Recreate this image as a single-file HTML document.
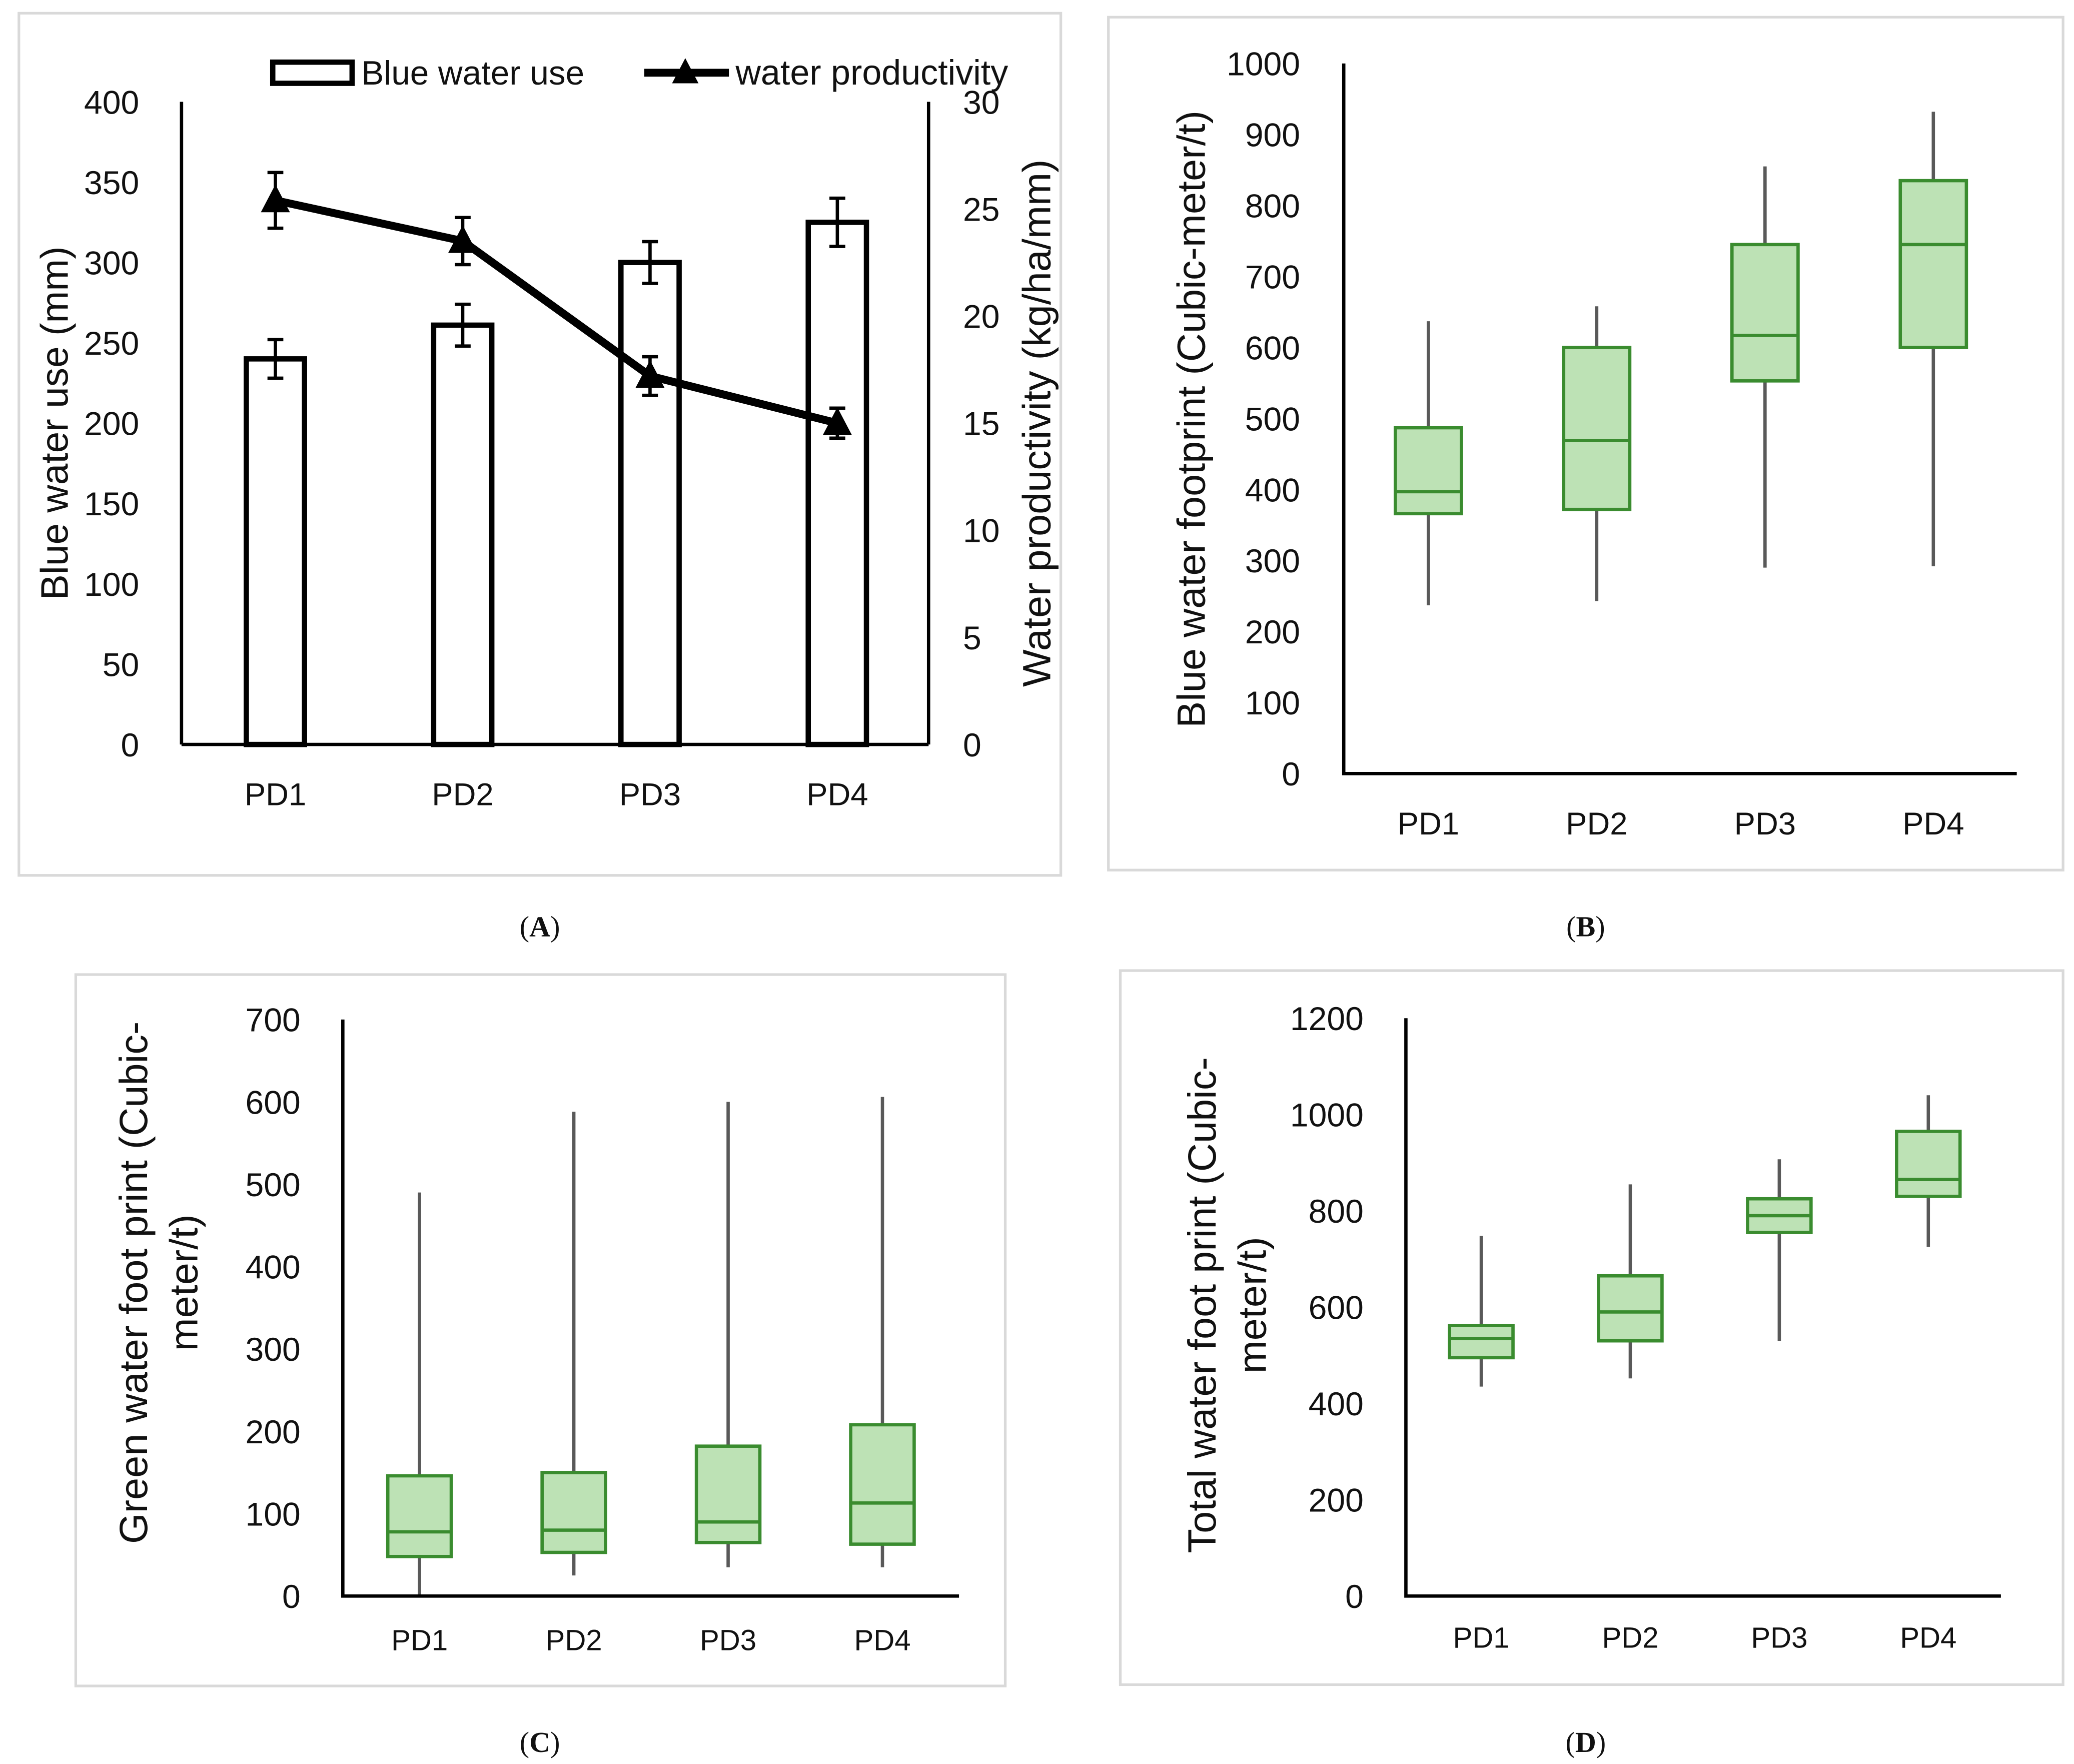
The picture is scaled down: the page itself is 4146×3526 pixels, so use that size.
<!DOCTYPE html>
<html><head><meta charset="utf-8">
<style>
html,body{margin:0;padding:0;background:#fff;}
svg{display:block;}
text{font-family:"Liberation Sans",sans-serif;fill:#111;}
.cap{font-family:"Liberation Serif",serif;font-size:22px;}
</style></head>
<body>
<svg id="fig" width="4146" height="3526" viewBox="0 0 1568 1334" xmlns="http://www.w3.org/2000/svg">
<rect x="14" y="10" width="788" height="652" fill="none" stroke="#d9d9d9" stroke-width="2"/>
<rect x="838" y="13" width="722" height="645" fill="none" stroke="#d9d9d9" stroke-width="2"/>
<rect x="57" y="737" width="703" height="538" fill="none" stroke="#d9d9d9" stroke-width="2"/>
<rect x="847" y="734" width="713" height="540" fill="none" stroke="#d9d9d9" stroke-width="2"/>
<text class="cap" x="408" y="708" text-anchor="middle">(<tspan font-weight="bold">A</tspan>)</text>
<text class="cap" x="1199" y="708" text-anchor="middle">(<tspan font-weight="bold">B</tspan>)</text>
<text class="cap" x="408" y="1325" text-anchor="middle">(<tspan font-weight="bold">C</tspan>)</text>
<text class="cap" x="1199" y="1325" text-anchor="middle">(<tspan font-weight="bold">D</tspan>)</text>
<g id="ga"></g>
<g id="gb"></g>
<g id="gc"></g>
<g id="gd"></g>
</svg>
<script>
const categories = ["PD1","PD2","PD3","PD4"];
// Panel A
const blueUse = [240, 261, 300, 325];
const blueUseErr = [12, 13, 13, 15];
const productivity = [25.4, 23.5, 17.2, 15.0];
const productivityErr = [1.3, 1.1, 0.9, 0.7];
const aLeftTicks = [0,50,100,150,200,250,300,350,400];
const aRightTicks = [0,5,10,15,20,25,30];
// Panel B
const bWhiskLow = [237, 243, 290, 292];
const bQ1 = [366, 372, 553, 600];
const bMedian = [397, 469, 617, 745];
const bQ3 = [487, 600, 745, 835];
const bWhiskHigh = [637, 658, 855, 932];
const bTicks = [0,100,200,300,400,500,600,700,800,900,1000];
// Panel C
const cWhiskLow = [0, 25, 35, 35];
const cQ1 = [48, 53, 65, 63];
const cMedian = [78, 80, 90, 113];
const cQ3 = [146, 150, 182, 208];
const cWhiskHigh = [490, 588, 600, 606];
const cTicks = [0,100,200,300,400,500,600,700];
// Panel D
const dWhiskLow = [435, 452, 530, 725];
const dQ1 = [495, 530, 755, 830];
const dMedian = [535, 590, 790, 865];
const dQ3 = [562, 665, 825, 965];
const dWhiskHigh = [748, 855, 907, 1040];
const dTicks = [0,200,400,600,800,1000,1200];

const NS = "http://www.w3.org/2000/svg";
function mk(parent, tag, attrs, txt){
  const e = document.createElementNS(NS, tag);
  for (const k in attrs) e.setAttribute(k, attrs[k]);
  if (txt !== undefined) e.textContent = txt;
  parent.appendChild(e);
  return e;
}
function lin(d0,d1,r0,r1){ return v => r0 + (v-d0)/(d1-d0)*(r1-r0); }

// ---------- Panel A ----------
(function(){
  const g = document.getElementById('ga');
  const yL = lin(0,400,563,77), yR = lin(0,30,563,77);
  const xc = [208,350,491,633];
  const x = i => xc[0] + i*(xc[3]-xc[0])/3;
  aLeftTicks.forEach(t=>{
    const e = mk(g,'text',{x:105,y:yL(t)+9,'text-anchor':'end','font-size':25},String(t));
    
    
  });
  aRightTicks.forEach(t=>{
    const e = mk(g,'text',{x:728,y:yR(t)+9,'font-size':25},String(t));
    
    
  });
  let e;
  e = mk(g,'line',{x1:137,y1:77,x2:137,y2:563,stroke:'#000','stroke-width':2.5});
   
  e = mk(g,'line',{x1:702,y1:77,x2:702,y2:563,stroke:'#000','stroke-width':2.5});
   
  blueUse.forEach((v,i)=>{
    const b = mk(g,'rect',{x:x(i)-22,y:yL(v),width:44,height:563-yL(v),fill:'#fff',stroke:'#000','stroke-width':4});
    
    
    const t=yL(v+blueUseErr[i]), bo=yL(v-blueUseErr[i]);
    const eb = mk(g,'path',{d:`M${x(i)},${t}V${bo}M${x(i)-6},${t}H${x(i)+6}M${x(i)-6},${bo}H${x(i)+6}`,stroke:'#000','stroke-width':2.5,fill:'none'});
    
    
  });
  e = mk(g,'line',{x1:137,y1:563,x2:702,y2:563,stroke:'#000','stroke-width':2.5});
   
  const pts = productivity.map((v,i)=>x(i)+','+yR(v)).join(' ');
  const pl = mk(g,'polyline',{points:pts,fill:'none',stroke:'#000','stroke-width':6,'stroke-linejoin':'round'});
  
  
  productivity.forEach((v,i)=>{
    const t=yR(v+productivityErr[i]), bo=yR(v-productivityErr[i]);
    const eb = mk(g,'path',{d:`M${x(i)},${t}V${bo}M${x(i)-6},${t}H${x(i)+6}M${x(i)-6},${bo}H${x(i)+6}`,stroke:'#000','stroke-width':2.5,fill:'none'});
    
    
    const y=yR(v);
    const m = mk(g,'path',{d:`M${x(i)},${y-12}L${x(i)+11},${y+9}L${x(i)-11},${y+9}Z`,fill:'#000'});
    
    
  });
  categories.forEach((c,i)=>{
    const t = mk(g,'text',{x:x(i),y:609,'text-anchor':'middle','font-size':24},c);
    
    
  });
  e = mk(g,'text',{transform:'translate(51,320) rotate(-90)','text-anchor':'middle','font-size':29},'Blue water use (mm)');
   
  e = mk(g,'text',{transform:'translate(794,320) rotate(-90)','text-anchor':'middle','font-size':30},'Water productivity (kg/ha/mm)');
   
  e = mk(g,'rect',{x:206,y:47,width:60,height:16,fill:'#fff',stroke:'#000','stroke-width':4});
   
  e = mk(g,'text',{x:273,y:64,'font-size':25.5},'Blue water use');
   
  e = mk(g,'line',{x1:487,y1:55,x2:551,y2:55,stroke:'#000','stroke-width':6});
   
  e = mk(g,'path',{d:'M518,44L528,63L508,63Z',fill:'#000'});
   
  e = mk(g,'text',{x:556,y:64,'font-size':26.5},'water productivity');
   
})();

// ---------- Box plots ----------
function boxChart(gid, cfg, lo, q1, med, q3, hi, ticks){
  const g = document.getElementById(gid);
  const y = lin(cfg.d0, cfg.d1, cfg.y0, cfg.y1);
  const x = i => cfg.xc0 + i*cfg.dx;
  ticks.forEach(t=>{
    const e = mk(g,'text',{x:cfg.lx,y:y(t)+9,'text-anchor':'end','font-size':cfg.fs},String(t));
    
    
  });
  categories.forEach((c,i)=>{
    const w = mk(g,'line',{x1:x(i),y1:y(hi[i]),x2:x(i),y2:y(lo[i]),stroke:'#595959','stroke-width':2.5});
    
    
    const b = mk(g,'rect',{x:x(i)-cfg.bw/2,y:y(q3[i]),width:cfg.bw,height:y(q1[i])-y(q3[i]),fill:'#bde2b5',stroke:'#3a8c2f','stroke-width':2.5});
    
    
    const m = mk(g,'line',{x1:x(i)-cfg.bw/2,y1:y(med[i]),x2:x(i)+cfg.bw/2,y2:y(med[i]),stroke:'#3a8c2f','stroke-width':2.5});
    
    
    const t = mk(g,'text',{x:x(i),y:cfg.xly,'text-anchor':'middle','font-size':cfg.xfs},c);
    
    
  });
  let e = mk(g,'path',{d:`M${cfg.ax},${cfg.y1}V${cfg.y0}H${cfg.axr}`,fill:'none',stroke:'#000','stroke-width':2.5});
  
  
  cfg.title.forEach((ln,k)=>{
    const t = mk(g,'text',{transform:`translate(${cfg.tx[k]},${cfg.ty}) rotate(-90)`,'text-anchor':'middle','font-size':cfg.tfs},ln);
    
    
  });
}
boxChart('gb',{d0:0,d1:1000,y0:585,y1:48,xc0:1080,dx:127.3,bw:50,lx:983,fs:25,xly:631,xfs:24,ax:1016,axr:1525,
  title:['Blue water footprint (Cubic-meter/t)'],tx:[911],ty:317,tfs:30},bWhiskLow,bQ1,bMedian,bQ3,bWhiskHigh,bTicks);
boxChart('gc',{d0:0,d1:700,y0:1207,y1:771,xc0:317,dx:116.7,bw:48,lx:227,fs:25,xly:1248,xfs:22,ax:259,axr:725,
  title:['Green  water foot print (Cubic-','meter/t)'],tx:[111,149],ty:970,tfs:30},cWhiskLow,cQ1,cMedian,cQ3,cWhiskHigh,cTicks);
boxChart('gd',{d0:0,d1:1200,y0:1207,y1:770,xc0:1120,dx:112.7,bw:48,lx:1031,fs:25,xly:1246,xfs:22,ax:1063,axr:1513,
  title:['Total water foot print (Cubic-','meter/t)'],tx:[919,957],ty:987,tfs:30},dWhiskLow,dQ1,dMedian,dQ3,dWhiskHigh,dTicks);
</script>
</body></html>
